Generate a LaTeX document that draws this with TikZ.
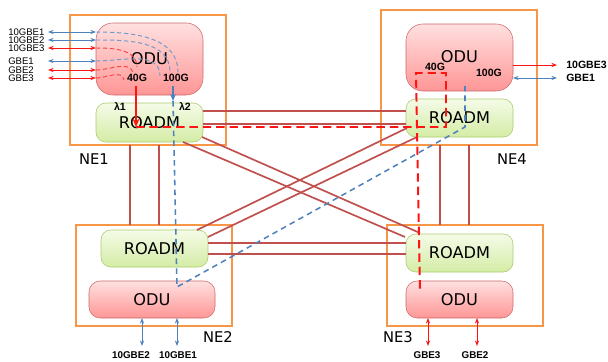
\documentclass[tikz,border=0pt]{standalone}
\usepackage{fontspec}
\setmainfont{DejaVu Sans}
\newfontfamily\lblfont{Liberation Sans}
\usetikzlibrary{arrows.meta}
\usetikzlibrary{calc}

\definecolor{neorange}{RGB}{247,150,70}
\definecolor{fiber}{RGB}{192,80,77}
\definecolor{sigblue}{RGB}{79,129,189}
\definecolor{sigred}{RGB}{255,20,20}
\definecolor{oduline}{RGB}{205,105,105}
\definecolor{odutop}{RGB}{255,224,224}
\definecolor{odubot}{RGB}{255,150,150}
\definecolor{adline}{RGB}{170,205,110}
\definecolor{adtop}{RGB}{245,251,232}
\definecolor{adbot}{RGB}{212,236,165}

\def\pxl{0.025cm}
\tikzset{dims/.style n args={2}{minimum width=#1*\pxl, minimum height=#2*\pxl}}

\begin{document}
\begin{tikzpicture}[x=0.025cm,y=-0.025cm]
\useasboundingbox (0,0) rectangle (608,362);
\tikzstyle{ne} = [draw=neorange, line width=1.3pt, inner sep=0pt, outer sep=0pt]
\tikzstyle{odu} = [draw=oduline, top color=odutop, bottom color=odubot, rounded corners=8pt,
  inner sep=0pt, outer sep=0pt, font=\fontsize{11.5}{13}\selectfont]
\tikzstyle{roadm} = [draw=adline, top color=adtop, bottom color=adbot, rounded corners=7pt,
  inner sep=0pt, outer sep=0pt, font=\fontsize{11.5}{13}\selectfont]
\tikzstyle{link} = [draw=fiber, line width=1.2pt]
\tikzstyle{nelbl} = [font=\fontsize{10.5}{12}\selectfont]
\tikzstyle{port} = [inner sep=0pt, font=\lblfont\fontsize{6.8}{7}\selectfont]
\tikzstyle{bport} = [inner sep=0pt, font=\lblfont\bfseries\fontsize{7}{8}\selectfont]
\tikzstyle{rate} = [inner sep=0pt, font=\lblfont\bfseries\fontsize{7.5}{9}\selectfont]
\tikzstyle{redpath} = [draw=sigred, line width=1.4pt, dash pattern=on 6pt off 3.5pt]
\tikzstyle{bluepath} = [draw=sigblue, line width=1.1pt, dash pattern=on 4pt off 3pt]
\tikzstyle{redcurve} = [draw=sigred!80, line width=0.7pt, dash pattern=on 3pt off 2pt]
\tikzstyle{bluecurve} = [draw=sigblue!80, line width=0.7pt, dash pattern=on 3pt off 2pt]
\tikzstyle{both} = [{Stealth[length=4pt,width=3pt]}-{Stealth[length=4pt,width=3pt]}, line width=0.7pt]

% network elements
\node[ne, dims={156}{130}] (ne1) at (148,80) {};
\node[ne, dims={156}{135}] (ne4) at (459,77.5) {};
\node[ne, dims={156}{101}] (ne2) at (154,275.5) {};
\node[ne, dims={156}{101}] (ne3) at (465,275.5) {};

\node[odu, dims={107}{72}, rounded corners=12pt] (odu1) at (149.5,59) {ODU};
\node[roadm, dims={107}{39}] (roadm1) at (149.5,122.5) {ROADM};
\node[odu, dims={107}{67}, rounded corners=12pt, text depth=0pt] (odu4) at (459.5,57.5) {\raisebox{2pt}{ODU}};
\node[roadm, dims={107}{38}] (roadm4) at (459.5,118) {ROADM};
\node[roadm, dims={107}{37}] (roadm2) at (154.5,248.5) {ROADM};
\node[odu, dims={126}{37}] (odu2) at (152,299.5) {ODU};
\node[roadm, dims={107}{38}] (roadm3) at (459.5,253) {ROADM};
\node[odu, dims={107}{37}] (odu3) at (459.5,299.5) {ODU};

\node[nelbl] (ne1lbl) at (94,159) {NE1};
\node[nelbl] (ne4lbl) at (512,159) {NE4};
\node[nelbl] (ne2lbl) at (218,337) {NE2};
\node[nelbl] (ne3lbl) at (398,337) {NE3};

% fibres
\draw[link] (roadm1.east |- 0,111) -- (roadm4.west |- 0,111);
\draw[link] (roadm1.east |- 0,124) -- (roadm4.west |- 0,124);
\draw[link] (roadm2.east |- 0,243) -- (roadm3.west |- 0,243);
\draw[link] (roadm2.east |- 0,254) -- (roadm3.west |- 0,254);
\draw[link] (ne1.south -| 130,0) -- (ne2.north -| 130,0);
\draw[link] (ne1.south -| 159,0) -- (ne2.north -| 159,0);
\draw[link] (ne4.south -| 440,0) -- (ne3.north -| 440,0);
\draw[link] (ne4.south -| 469,0) -- (ne3.north -| 469,0);
\draw[link] (roadm1.south -| 183,0) -- (405,237);
\draw[link] (202,137) -- (420,233);
\draw[link] (197,230) -- (407,128);
\draw[link] (roadm2.east |- 0,237) -- (417,137);

% client ports on NE1
\coordinate (lft) at (48,0);
\node[port, anchor=west] (p1) at (8,32) {10GBE1};
\node[port, anchor=west] (p2) at (8,40) {10GBE2};
\node[port, anchor=west] (p3) at (8,48) {10GBE3};
\node[port, anchor=west] (p4) at (8,61) {GBE1};
\node[port, anchor=west] (p5) at (8,70) {GBE2};
\node[port, anchor=west] (p6) at (8,78) {GBE3};
\draw[both, sigblue] (lft |- p1) -- (odu1.west |- p1);
\draw[both, sigblue] (lft |- p2) -- (odu1.west |- p2);
\draw[both, sigred] (lft |- p3) -- (odu1.west |- p3);
\draw[both, sigblue] (lft |- p4) -- (odu1.west |- p4);
\draw[both, sigred] (lft |- p5) -- (odu1.west |- p5);
\draw[both, sigred] (lft |- p6) -- (odu1.west |- p6);

\draw[bluecurve] (odu1.west |- p1) to[out=0, in=90] (178,72);
\draw[bluecurve] (odu1.west |- p2) to[out=0, in=90] (170,72);
\draw[bluecurve] (odu1.west |- p4) to[out=0, in=90] (160,76);
\draw[redcurve] (odu1.west |- p3) to[out=0, in=90] (137,67);
\draw[redcurve] (odu1.west |- p5) to[out=0, in=95] (133,74);
\draw[redcurve] (odu1.west |- p6) to[out=0, in=100] (124,80);

\node[rate] (g40a) at (137,78) {40G};
\node[rate] (g100a) at (176,78) {100G};
\node[rate] (l1) at (120,107) {λ1};
\node[rate] (l2) at (185,107) {λ2};
\node[rate] (g40b) at (435,66.5) {40G};
\node[rate] (g100b) at (489,73) {100G};

% 40G wavelength
\coordinate (r0) at (136,86);
\coordinate (r1) at (136,127);
\draw[sigred, line width=1.5pt, -{Stealth[length=6pt,width=5pt]}] (r0) -- (r1);
\draw[redpath] (r1) -- (446,127) -- (446,73) -- (416,73) -- (420,292);

% 100G wavelength
\coordinate (b0) at (173,86);
\coordinate (b1) at (173,101);
\draw[sigblue, line width=1.1pt, -{Stealth[length=5pt,width=4pt]}] (b0) -- (b1);
\draw[bluepath] (b1) -- (177,287) -- (465,127) -- (465,86);

% client ports on NE4, NE2, NE3
\node[rate, anchor=west] (q1) at (566,65) {10GBE3};
\node[rate, anchor=west] (q2) at (566,78) {GBE1};
\draw[sigred, line width=0.7pt, -{Stealth[length=4pt,width=3pt]}] (odu4.east |- q1) -- (557,65);
\draw[both, sigblue] (odu4.east |- q2) -- (557,78);

\node[bport] (c1) at (131,355) {10GBE2};
\node[bport] (c2) at (178,355) {10GBE1};
\draw[both, sigblue] (odu2.south -| 142,0) -- (142,346);
\draw[both, sigblue] (odu2.south -| 177,0) -- (177,346);

\node[bport] (c3) at (427,355) {GBE3};
\node[bport] (c4) at (475,355) {GBE2};
\draw[both, sigred] (odu3.south -| 428,0) -- (428,346);
\draw[both, sigred] (odu3.south -| 477,0) -- (477,346);
\end{tikzpicture}
\end{document}
